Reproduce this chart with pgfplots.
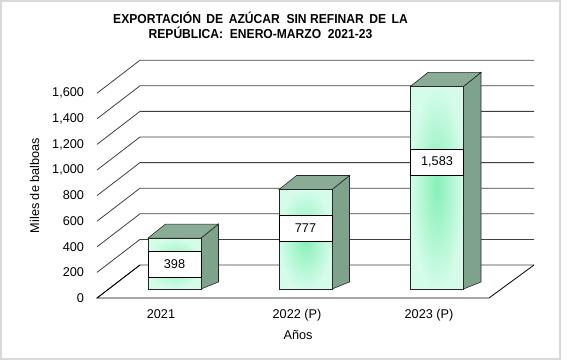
\documentclass[border=0pt]{standalone}
\usepackage{pgfplots}
\pgfplotsset{compat=1.18}
\usepackage{pgfplotstable}
\usepackage{fontspec}
\setmainfont{Liberation Sans}
\newfontfamily\titlefont[FakeStretch=0.93]{Liberation Sans}
\definecolor{facein}{HTML}{86F0B8}
\definecolor{faceout}{HTML}{D4FCE9}
\definecolor{sidegreen}{HTML}{7FA28C}
\definecolor{topgreen}{HTML}{8AAC96}
\definecolor{wallline}{HTML}{404040}
\definecolor{framegray}{HTML}{D9D9D9}

% x: pixel position of bar centre, v: value (Miles de balboas), ly: label height
\pgfplotstableread{
x v lab ly
174.5 398 398 191
305.5 777 777 477
437 1583 1,583 992
}\datatable

\begin{document}
\begin{tikzpicture}
\begin{axis}[
  x=1bp, y=0.128bp,
  xmin=97, xmax=534,
  ymin=-70.3, ymax=1787.5,
  clip=false,
  axis line style={draw=none},
  major tick length=0pt,
  tick style={draw=none},
  xtick={161,297,429},
  xticklabels={2021,2022 (P),2023 (P)},
  ytick={-70.3,129.7,329.7,529.7,729.7,929.7,1129.7,1329.7,1529.7},
  yticklabels={0,200,400,600,800,{1,000},{1,200},{1,400},{1,600}},
  ticklabel style={font=\fontsize{12.7bp}{14bp}\selectfont},
  xticklabel style={yshift=-8bp},
  yticklabel style={xshift=-9.5bp},
  /pgf/number format/assume math mode=true,
]
% bounding box of full picture
\path (axis cs:0,-554.7) rectangle (axis cs:567,2257.8);
\draw[framegray, line width=1.2bp] (axis cs:1,-546.9) rectangle (axis cs:560,2250);

% back wall grid lines with diagonals
\pgfplotsinvokeforeach{0,200,400,600,800,1000,1200,1400,1600}{
  \addplot[wallline, line width=0.8bp, mark=none] coordinates {(97,#1-70.3) (140,#1+187.5) (534,#1+187.5)};
}
% floor
\addplot[black, line width=0.8bp, mark=none] coordinates {(140,187.5) (97,-70.3) (489,-70.3) (534,187.5)};

% 3D bars: side, top and front faces, from the table
\pgfplotsinvokeforeach{0,1,2}{
  \pgfplotstablegetelem{#1}{x}\of\datatable \let\cx\pgfplotsretval
  \pgfplotstablegetelem{#1}{v}\of\datatable \let\cv\pgfplotsretval
  \pgfmathsetmacro\xl{\cx-26.5}
  \pgfmathsetmacro\xr{\cx+26.5}
  \pgfmathsetmacro\xlb{\cx-26.5+17.5}
  \pgfmathsetmacro\xrb{\cx+26.5+17.5}
  \pgfmathsetmacro\vt{\cv+109.4}
  \edef\temp{%
    \noexpand\addplot[fill=sidegreen, draw=black!85, line width=0.6bp, mark=none] coordinates {(\xr,0) (\xrb,55) (\xrb,\vt) (\xr,\cv)} --cycle;
    \noexpand\addplot[fill=topgreen, draw=black!85, line width=0.6bp, mark=none] coordinates {(\xl,\cv) (\xr,\cv) (\xrb,\vt) (\xlb,\vt)} --cycle;
    \noexpand\addplot[draw=black!85, line width=0.6bp, mark=none, inner color=facein, outer color=faceout] coordinates {(\xl,0) (\xr,0) (\xr,\cv) (\xl,\cv)} --cycle;
  }\temp
}

% data labels
\addplot[only marks, mark=none, point meta=explicit symbolic,
  nodes near coords,
  nodes near coords style={anchor=center, draw=black, fill=white, line width=0.6bp,
    minimum width=53bp, minimum height=26bp, inner sep=0pt,
    font=\fontsize{12.7bp}{14bp}\selectfont}]
  table[x=x, y=ly, meta=lab] {\datatable};

% axis titles
\node[font=\fontsize{12.7bp}{14bp}\selectfont] at (axis cs:298,-359.4) {Años};
\node[font=\fontsize{12.7bp}{14bp}\selectfont, rotate=90] at (axis cs:34.5,808.6) {Miles de balboas};
% chart title
\node[font=\titlefont\bfseries\fontsize{13bp}{15bp}\selectfont] at (axis cs:260.5,2117) {EXPORTACIÓN\, DE\, AZÚCAR\ \ SIN REFINAR\, DE\, LA};
\node[font=\titlefont\bfseries\fontsize{13bp}{15bp}\selectfont] at (axis cs:260.5,2000) {REPÚBLICA:\ \ ENERO-MARZO\ \ 2021-23};
\end{axis}
\end{tikzpicture}
\end{document}
